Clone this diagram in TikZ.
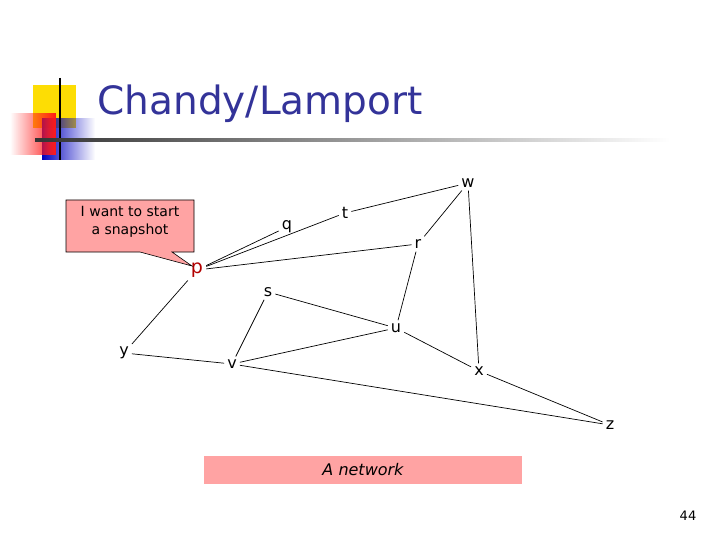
\documentclass[tikz,border=0pt]{standalone}
\usepackage{fontspec}
\setmainfont{DejaVu Sans}
\usetikzlibrary{shapes.callouts,fadings}
\definecolor{titleblue}{RGB}{51,51,153}
\definecolor{pinkish}{RGB}{255,163,163}
\begin{document}
\begin{tikzpicture}[x=1pt,y=-1pt,
  nd/.style={inner sep=3pt,font=\fontsize{16}{18}\selectfont},
  ed/.style={line width=0.7pt}]
\useasboundingbox (0,0) rectangle (720,540);
% logo
\fill[yellow!80!orange] (33,85) rectangle (76,128);
\fill[blue!75!black, path fading=east] (42,118) rectangle (95,160);
\fill[red!90!white, path fading=west] (10,113) rectangle (56,155);
\draw[line width=1.5pt] (60,78) -- (60,160);
\shade[left color=black!80, right color=white] (35,139) rectangle (670,141.5);
\node[anchor=west,text=titleblue,font=\fontsize{39}{42}\selectfont] (title) at (94,104) {Chandy/Lamport};
% nodes
\node[nd] (w) at (468,183) {w};
\node[nd] (t) at (345,213) {t};
\node[nd] (q) at (287,227) {q};
\node[nd] (r) at (418,244) {r};
\node[nd,text=red!70!black,font=\fontsize{19}{20}\selectfont] (p) at (197,270) {p};
\node[nd] (s) at (268,292) {s};
\node[nd] (u) at (396,328) {u};
\node[nd] (y) at (124,353) {y};
\node[nd] (v) at (232,364) {v};
\node[nd] (x) at (479,371) {x};
\node[nd] (z) at (610,425) {z};
\draw[ed] (p) -- (q); \draw[ed] (p) -- (t); \draw[ed] (p) -- (r);
\draw[ed] (t) -- (w); \draw[ed] (w) -- (r); \draw[ed] (r) -- (u);
\draw[ed] (w) -- (x); \draw[ed] (s) -- (u); \draw[ed] (s) -- (v);
\draw[ed] (u) -- (v); \draw[ed] (u) -- (x); \draw[ed] (y) -- (v);
\draw[ed] (p) -- (y); \draw[ed] (v) -- (z); \draw[ed] (x) -- (z);
% callout
\coordinate (tip) at (192,266);
\draw[fill=pinkish,line width=0.6pt] (66,200) -- (194,200) -- (194,252) -- (172,252) -- (tip) -- (140,252) -- (66,252) -- cycle;
\node[align=center,font=\fontsize{14}{18}\selectfont] (msg) at (130,222) {I want to start\\a snapshot};
% caption
\fill[pinkish] (204,456) rectangle (522,484);
\node[font=\fontsize{16}{18}\selectfont\itshape] (cap) at (363,470) {A network};
\node[font=\fontsize{13}{14}\selectfont] (num) at (688,516) {44};
\end{tikzpicture}
\end{document}
